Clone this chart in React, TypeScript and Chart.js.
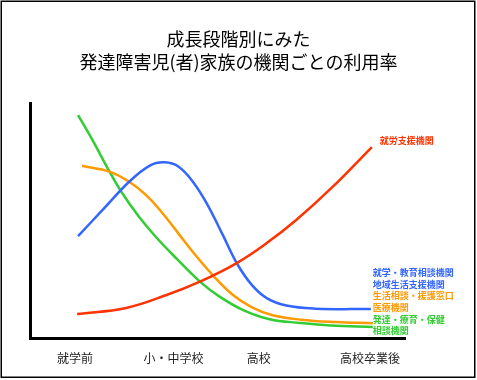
import React, { useEffect, useRef } from 'react';
import { Chart, registerables } from 'chart.js';

Chart.register(...registerables);

const FONT = '"Noto Sans CJK JP", "Noto Sans", sans-serif';

const titleLines = ['成長段階別にみた', '発達障害児(者)家族の機関ごとの利用率'];

const stageLabels = ['就学前', '小・中学校', '高校', '高校卒業後'];
const stagePositions = [0, 1, 1.87, 3];

// [stage position, usage rate (relative)]
const employmentSupport = [
  [0.02, 10.2], [0.52, 12.8], [0.93, 18.3], [1.27, 24.0], [1.64, 31.8],
  [1.95, 40.4], [2.25, 50.2], [2.62, 64.3], [3.02, 81.3],
];
const educationCommunity = [
  [0.03, 43.4], [0.28, 54.5], [0.55, 66.5], [0.76, 73.4], [0.91, 74.8],
  [1.05, 73.0], [1.2, 66.4], [1.35, 56.5], [1.5, 44.1], [1.65, 31.5],
  [1.8, 22.5], [1.95, 17.0], [2.15, 13.8], [2.45, 12.5], [3.01, 12.3],
];
const livingMedical = [
  [0.07, 73.3], [0.35, 70.8], [0.55, 66.5], [0.72, 60.9], [0.89, 53.1],
  [1.06, 44.0], [1.23, 35.0], [1.4, 26.8], [1.6, 18.5], [1.8, 13.0],
  [2.0, 9.8], [2.3, 7.8], [2.65, 6.8], [3.03, 6.3],
];
const developmentHealth = [
  [0.03, 94.9], [0.18, 84.0], [0.35, 70.8], [0.48, 61.6], [0.65, 51.6],
  [0.82, 43.1], [1.03, 33.9], [1.27, 24.0], [1.47, 17.6], [1.71, 11.9],
  [1.98, 8.0], [2.29, 6.4], [2.6, 5.3], [3.03, 4.7],
];

const employmentLabel = ['就労支援機関'];
const educationLabel = ['就学・教育相談機関', '地域生活支援機関'];
const livingLabel = ['生活相談・援護窓口', '医療機関'];
const developmentLabel = ['発達・療育・保健', '相談機関'];

const COLORS = {
  red: '#ff3300',
  blue: '#3366ff',
  orange: '#ff9900',
  green: '#33cc33',
};

const toPoints = (arr: number[][]) => arr.map(([x, y]) => ({ x, y }));

const framePlugin = {
  id: 'frame',
  beforeDraw(chart: any) {
    const { ctx, width, height } = chart;
    ctx.save();
    ctx.fillStyle = '#ffffff';
    ctx.fillRect(0, 0, width, height);
    ctx.restore();
  },
  afterDraw(chart: any) {
    const { ctx } = chart;
    ctx.save();
    ctx.strokeStyle = '#000000';
    ctx.lineWidth = 1.5;
    ctx.strokeRect(1.25, 1.25, 473.5, 376);
    ctx.restore();
  },
};

const labelPlugin = {
  id: 'endLabels',
  afterDatasetsDraw(chart: any) {
    const { ctx, scales } = chart;
    const xs = scales.x;
    const ys = scales.y;
    ctx.save();
    ctx.font = `bold 9px ${FONT}`;
    ctx.textBaseline = 'middle';
    ctx.textAlign = 'left';
    ctx.fillStyle = COLORS.red;
    ctx.fillText(employmentLabel[0], xs.getPixelForValue(3.1), ys.getPixelForValue(84.0));
    const stack: [string, string][] = [
      ...educationLabel.map((t) => [t, COLORS.blue] as [string, string]),
      ...livingLabel.map((t) => [t, COLORS.orange] as [string, string]),
      ...developmentLabel.map((t) => [t, COLORS.green] as [string, string]),
    ];
    const x0 = xs.getPixelForValue(3.03);
    const y0 = ys.getPixelForValue(27.8);
    stack.forEach(([t, c], i) => {
      ctx.fillStyle = c;
      ctx.fillText(t, x0, y0 + i * 11.6);
    });
    ctx.restore();
  },
};

export default function App() {
  const ref = useRef<HTMLCanvasElement>(null);
  useEffect(() => {
    const canvas = ref.current!;
    const common = {
      borderWidth: 2.5,
      pointRadius: 0,
      fill: false,
      tension: 0.4,
    };
    const chart = new Chart(canvas, {
      type: 'line',
      data: {
        datasets: [
          { ...common, label: employmentLabel.join(''), data: toPoints(employmentSupport), borderColor: COLORS.red },
          { ...common, label: educationLabel.join('／'), data: toPoints(educationCommunity), borderColor: COLORS.blue },
          { ...common, label: livingLabel.join('／'), data: toPoints(livingMedical), borderColor: COLORS.orange },
          { ...common, label: developmentLabel.join(''), data: toPoints(developmentHealth), borderColor: COLORS.green },
        ],
      },
      options: {
        responsive: false,
        animation: false,
        layout: { padding: { left: 30, right: 30, top: 0, bottom: 0.6 } },
        plugins: {
          legend: { display: false },
          tooltip: { enabled: false },
          title: {
            display: true,
            text: titleLines,
            color: '#000000',
            font: { family: FONT, size: 18, weight: 'normal', lineHeight: 1.28 },
            padding: { top: 27.5, bottom: 29.5 },
          },
        },
        scales: {
          x: {
            type: 'linear',
            min: -0.459,
            max: 3.357,
            grid: { display: false, drawTicks: false },
            border: { display: true, color: '#000000', width: 3 },
            afterBuildTicks: (scale: any) => {
              scale.ticks = stagePositions.map((v) => ({ value: v }));
            },
            ticks: {
              autoSkip: false,
              maxRotation: 0,
              padding: 13.5,
              color: '#222222',
              font: { family: FONT, size: 12 },
              callback: (v: any) => stageLabels[stagePositions.indexOf(Number(v))] ?? '',
            },
          },
          y: {
            min: 0,
            max: 100,
            grid: { display: false, drawTicks: false },
            border: { display: true, color: '#000000', width: 3 },
            ticks: { display: false },
          },
          yRight: {
            position: 'right',
            min: 0,
            max: 100,
            grid: { display: false, drawTicks: false },
            border: { display: false },
            ticks: { display: false },
            afterFit: (scale: any) => {
              scale.width = 42;
            },
          },
        },
      },
      plugins: [framePlugin, labelPlugin],
    } as any);
    return () => chart.destroy();
  }, []);
  return (
    <div style={{ position: 'fixed', left: 0, top: 0, width: 477, height: 380, background: '#fff' }}>
      <canvas ref={ref} width={477} height={380} style={{ display: 'block' }} />
    </div>
  );
}
